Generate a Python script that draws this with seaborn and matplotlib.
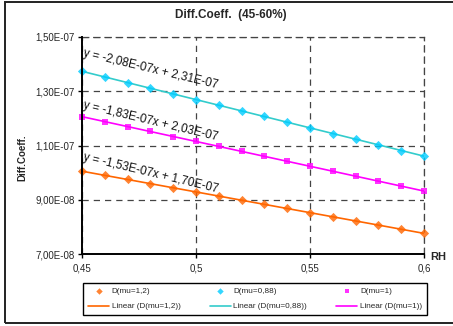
import numpy as np
import pandas as pd
import matplotlib
matplotlib.use("Agg")
import matplotlib.pyplot as plt
import seaborn as sns
from matplotlib.patches import Rectangle

# ── Data ─────────────────────────────────────────────────────────────────────
rh = [0.45, 0.46, 0.47, 0.48, 0.49, 0.50, 0.51, 0.52,
      0.53, 0.54, 0.55, 0.56, 0.57, 0.58, 0.59, 0.60]

d_mu_12 = [1.005e-7, 0.990e-7, 0.975e-7, 0.959e-7, 0.944e-7, 0.929e-7, 0.914e-7, 0.898e-7,
           0.883e-7, 0.868e-7, 0.852e-7, 0.837e-7, 0.822e-7, 0.807e-7, 0.791e-7, 0.776e-7]
d_mu_088 = [1.373e-7, 1.353e-7, 1.332e-7, 1.311e-7, 1.290e-7, 1.269e-7, 1.249e-7, 1.227e-7,
            1.207e-7, 1.185e-7, 1.166e-7, 1.144e-7, 1.124e-7, 1.102e-7, 1.081e-7, 1.061e-7]
d_mu_1 = [1.206e-7, 1.188e-7, 1.170e-7, 1.152e-7, 1.133e-7, 1.115e-7, 1.097e-7, 1.078e-7,
          1.060e-7, 1.042e-7, 1.023e-7, 1.005e-7, 0.987e-7, 0.968e-7, 0.950e-7, 0.933e-7]

series_names = ["D(mu=1,2)", "D(mu=0,88)", "D(mu=1)"]
equations = ["y = -1,53E-07x + 1,70E-07",
             "y = -2,08E-07x + 2,31E-07",
             "y = -1,83E-07x + 2,03E-07"]
eq_y = [1.048e-7, 1.430e-7, 1.237e-7]

y_ticks = [7e-8, 9e-8, 1.1e-7, 1.3e-7, 1.5e-7]
y_ticklabels = ["7,00E-08", "9,00E-08", "1,10E-07", "1,30E-07", "1,50E-07"]
x_ticks = [0.45, 0.5, 0.55, 0.6]
x_ticklabels = ["0,45", "0,5", "0,55", "0,6"]

# ── Style ────────────────────────────────────────────────────────────────────
sns.set_style("white")
plt.rcParams["font.family"] = ["Liberation Sans", "DejaVu Sans"]

marker_colors = ["#FF6600", "#00CCFF", "#FF00FF"]
line_colors = ["#FF6600", "#33CCCC", "#FF00FF"]
markers = ["D", "D", "s"]
sizes = [22, 22, 18]

fig = plt.figure(figsize=(4.53, 3.26), dpi=100)
ax = fig.add_axes([82 / 453, 1 - 254 / 326, 342 / 453, 217 / 326])

handles = []
for name, vals, mc, lc, mk, sz in zip(series_names, [d_mu_12, d_mu_088, d_mu_1],
                                      marker_colors, line_colors, markers, sizes):
    df = pd.DataFrame({"RH": rh, "D": vals})
    sns.regplot(data=df, x="RH", y="D", ax=ax, ci=None, marker=mk, color=mc,
                scatter_kws=dict(s=sz, zorder=4, linewidths=0, clip_on=False),
                line_kws=dict(color=lc, lw=1.2, zorder=3))
    sc = ax.collections[-1]
    ln = ax.lines[-1]
    sc.set_label(name)
    ln.set_label(f"Linear ({name})")
    handles += [sc, ln]

# trendline equations
for eq, yy in zip(equations, eq_y):
    ax.text(0.4505, yy, eq, fontsize=8.5, rotation=-13.5, rotation_mode="anchor",
            ha="left", va="baseline", color="#111111", zorder=5)

ax.set_xlim(0.45, 0.6)
ax.set_ylim(7e-8, 1.5e-7)
ax.set_yticks(y_ticks)
ax.set_yticklabels(y_ticklabels)
ax.set_xticks(x_ticks)
ax.set_xticklabels(x_ticklabels)
ax.tick_params(axis="both", direction="out", length=3, width=1, color="black",
               labelsize=7, pad=2, left=True, bottom=True)
ax.tick_params(axis="x", pad=4)
ax.set_xlabel("")
ax.set_ylabel("")
ax.grid(True, color="#444444", linestyle=(0, (5, 4)), lw=0.9)
for side in ["top", "right"]:
    ax.spines[side].set_color("#444444")
    ax.spines[side].set_linestyle((0, (5, 4)))
    ax.spines[side].set_linewidth(0.9)
for side in ["left", "bottom"]:
    ax.spines[side].set_color("black")
    ax.spines[side].set_linewidth(1.4)
    ax.spines[side].set_zorder(6)
ax.set_facecolor("white")

fig.text(231 / 453, 1 - 15 / 326, "Diff.Coeff.  (45-60%)", fontsize=8.5,
         fontweight="bold", ha="center", va="center")
fig.text(22.5 / 453, 1 - 157.5 / 326, "Diff.Coeff.", fontsize=7, fontweight="bold",
         rotation=90, ha="center", va="center")
fig.text(438 / 453, 1 - 257 / 326, "RH", fontsize=8, fontweight="bold",
         ha="center", va="center")

leg = fig.legend(handles=handles, ncol=3, loc="center",
                 bbox_to_anchor=(83 / 453, 1 - 318 / 326, 344 / 453, 38 / 326),
                 bbox_transform=fig.transFigure, mode="expand", fontsize=5.9,
                 frameon=True, fancybox=False, edgecolor="black", framealpha=1,
                 handlelength=2.6, handletextpad=0.3, borderaxespad=0,
                 labelspacing=0.9, markerscale=0.7, borderpad=0.6)
leg.get_frame().set_linewidth(1.0)

# outer chart border
fig.add_artist(Rectangle((5 / 453, 3 / 326), 1.2, 1 - 5 / 326, transform=fig.transFigure,
                         fill=False, edgecolor="#222222", lw=1.4))

fig.savefig("out.png", dpi=100)
